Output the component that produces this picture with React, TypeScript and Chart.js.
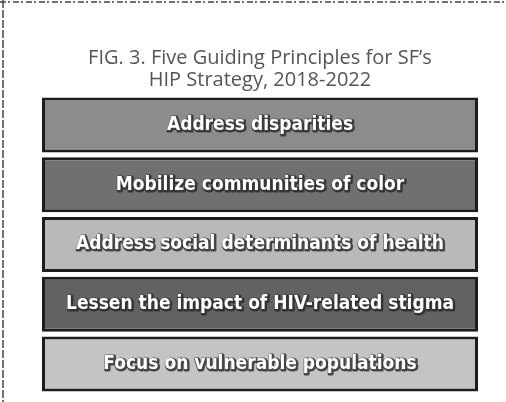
import React, { useEffect, useRef } from "react";
import { Chart, registerables } from "chart.js";

Chart.register(...registerables);

const principles = [
  "Address disparities",
  "Mobilize communities of color",
  "Address social determinants of health",
  "Lessen the impact of HIV-related stigma",
  "Focus on vulnerable populations",
];
const weights = [1, 1, 1, 1, 1];
const boxColors = ["#8c8c8c", "#707070", "#b9b9b9", "#626262", "#c4c4c4"];
const titleLines = ["FIG. 3. Five Guiding Principles for SF\u2019s", "HIP Strategy, 2018-2022"];

const labelPlugin = {
  id: "boxLabels",
  beforeDraw(chart: any) {
    const ctx = chart.ctx;
    ctx.save();
    ctx.fillStyle = "#ffffff";
    ctx.fillRect(0, 0, chart.width, chart.height);
    ctx.strokeStyle = "#444";
    ctx.lineWidth = 1.5;
    ctx.setLineDash([6, 2, 2, 3]);
    ctx.beginPath();
    ctx.moveTo(0, 2);
    ctx.lineTo(chart.width, 2);
    ctx.stroke();
    ctx.setLineDash([8, 2]);
    ctx.beginPath();
    ctx.moveTo(3, 0);
    ctx.lineTo(3, chart.height);
    ctx.stroke();
    ctx.restore();
  },
  afterDatasetsDraw(chart: any) {
    const ctx = chart.ctx;
    const meta = chart.getDatasetMeta(0);
    const xScale = chart.scales.x;
    ctx.save();
    ctx.textAlign = "center";
    ctx.textBaseline = "middle";
    ctx.font = "bold 19px 'DejaVu Sans Condensed', 'DejaVu Sans', sans-serif";
    meta.data.forEach((bar: any, i: number) => {
      const cx = (xScale.left + xScale.right) / 2;
      const cy = bar.y;
      ctx.lineWidth = 3;
      ctx.strokeStyle = "rgba(40,40,40,0.8)";
      ctx.lineJoin = "round";
      ctx.strokeText(principles[i], cx + 1, cy + 1);
      ctx.fillStyle = "#ffffff";
      ctx.fillText(principles[i], cx, cy);
    });
    ctx.restore();
  },
};

export default function App() {
  const ref = useRef<HTMLCanvasElement>(null);
  useEffect(() => {
    const chart = new Chart(ref.current!, {
      type: "bar",
      data: {
        labels: principles,
        datasets: [
          {
            data: weights,
            backgroundColor: boxColors,
            borderColor: "#1c1c1c",
            borderWidth: 3,
            borderSkipped: false,
            barPercentage: 0.92,
            categoryPercentage: 1,
          },
        ],
      },
      options: {
        indexAxis: "y",
        animation: false,
        responsive: false,
        maintainAspectRatio: false,
        layout: { padding: { left: 42, right: 28, top: 47, bottom: 8 } },
        scales: {
          x: { display: false, min: 0, max: 1 },
          y: { display: false },
        },
        plugins: {
          legend: { display: false },
          tooltip: { enabled: false },
          title: {
            display: true,
            text: titleLines,
            color: "#555555",
            font: { family: "'Open Sans', sans-serif", size: 20, weight: "normal", lineHeight: 1.1 },
            padding: { top: 0, bottom: 4 },
          },
        },
      },
      plugins: [labelPlugin],
    });
    return () => chart.destroy();
  }, []);
  return (
    <div style={{ position: "fixed", left: 0, top: 0, width: 506, height: 402 }}>
      <canvas ref={ref} width={506} height={402} />
    </div>
  );
}
